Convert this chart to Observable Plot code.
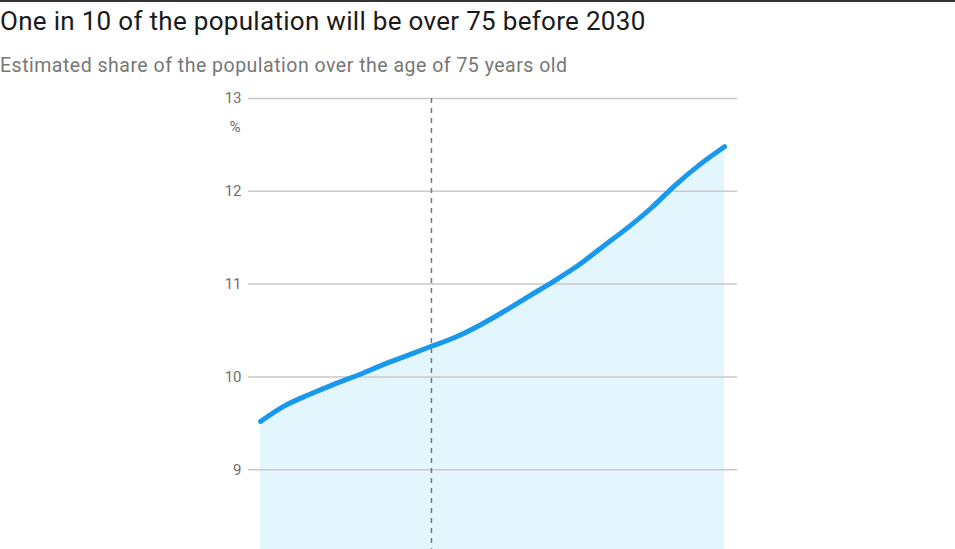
<!DOCTYPE html>
<html>
<head>
<meta charset="utf-8">
<script src="https://cdn.jsdelivr.net/npm/d3@7"></script>
<script src="https://cdn.jsdelivr.net/npm/@observablehq/plot@0.6"></script>
<style>
  html, body { margin: 0; padding: 0; background: #fff; overflow: hidden; }
  body { width: 955px; height: 549px; border-top: 2px solid #333; box-sizing: border-box; font-family: Roboto, "Liberation Sans", sans-serif; }
  h1 { margin: 0; position: absolute; left: 0; top: 6px; font-weight: 400; font-size: 26px; letter-spacing: 0.3px; color: #1a1a1a; white-space: nowrap; }
  h2 { margin: 0; position: absolute; left: 0; top: 54px; font-weight: 400; font-size: 19.5px; letter-spacing: 0.5px; color: #777; white-space: nowrap; }
  #chart { position: absolute; left: 0; top: 88px; width: 955px; height: 461px; overflow: hidden; }
</style>
</head>
<body>
<h1>One in 10 of the population will be over 75 before 2030</h1>
<h2>Estimated share of the population over the age of 75 years old</h2>
<div id="chart"></div>
<script>
const years = [2016, 2017, 2018, 2019, 2020, 2021, 2022, 2023, 2024, 2025,
               2026, 2027, 2028, 2029, 2030, 2031, 2032, 2033, 2034, 2035];
const share = [9.52, 9.69, 9.81, 9.92, 10.02, 10.13, 10.23, 10.33, 10.43, 10.56,
               10.71, 10.87, 11.03, 11.20, 11.40, 11.60, 11.82, 12.07, 12.29, 12.48];
const yTicks = [9, 10, 11, 12, 13];
const markerYear = 2023;
const yMin = 8, yMax = 13;

const data = years.map((y, i) => ({year: y, share: share[i]}));

const plot = Plot.plot({
  width: 955,
  height: 504,
  marginTop: 10,
  marginBottom: 30,
  marginLeft: 248,
  marginRight: 218,
  x: {domain: [years[0], years[years.length - 1]], insetLeft: 12, insetRight: 13, axis: null},
  y: {domain: [yMin, yMax], axis: null},
  style: {fontFamily: "Roboto, 'Liberation Sans', sans-serif"},
  marks: [
    Plot.areaY(data, {x: "year", y1: yMin, y2: "share", fill: "#e3f6fe"}),
    Plot.ruleY(yTicks, {stroke: "#c9c9c9", strokeWidth: 1.5}),
    Plot.text(yTicks, {y: d => d, text: d => String(d), frameAnchor: "left", textAnchor: "end", dx: -7, fill: "#707070", fontSize: 15}),
    Plot.text(["%"], {y: () => yMax, text: d => d, frameAnchor: "left", textAnchor: "end", dx: -8, dy: 29, fill: "#707070", fontSize: 15}),
    Plot.ruleX([markerYear], {y1: yMax, y2: yMin, stroke: "#777", strokeWidth: 1.5, strokeDasharray: "5,5"}),
    Plot.line(data, {x: "year", y: "share", stroke: "#1899ee", strokeWidth: 5, curve: "monotone-x"})
  ]
});
document.getElementById("chart").appendChild(plot);
</script>
</body>
</html>
